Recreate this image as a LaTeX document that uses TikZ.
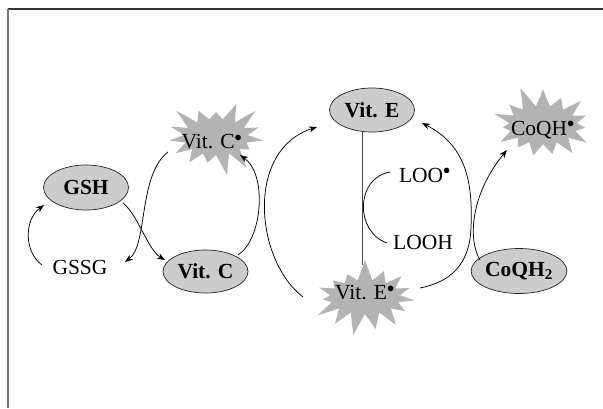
\documentclass[tikz,border=0pt]{standalone}
\usepackage{fontspec}
\setmainfont{Liberation Serif}
\usetikzlibrary{shapes.geometric,shapes.symbols,arrows.meta,calc}
\definecolor{ellfill}{HTML}{CCCCCC}
\definecolor{starfill}{HTML}{B3B3B3}
\begin{document}
\begin{tikzpicture}[x=1pt,y=-1pt,
  molec/.style={ellipse,draw=black!85,line width=0.7pt,fill=ellfill,inner sep=0pt,
     minimum width=85pt,minimum height=44pt,font=\fontsize{21.5}{24}\selectfont\bfseries},
  radical/.style={starburst,fill=starfill,draw=none,starburst points=15,
     starburst point height=22pt,inner sep=0pt},
  lbl/.style={inner sep=0pt,font=\fontsize{21.5}{24}\selectfont},
  conn/.style={line width=0.75pt,-{Stealth[length=8pt,width=6pt,inset=2.5pt]}},
  plain/.style={line width=0.75pt}]
\useasboundingbox (0,0) rectangle (603,408);
\draw[line width=1.2pt,black!80] (8,9) -- (603,9);
\draw[line width=1.5pt,black!55] (8,9) -- (8,408);
% radicals (stars)
\node[radical,random starburst=3,minimum width=108pt,minimum height=80pt] (vitcdot) at (216,137) {};
\node[radical,random starburst=7,minimum width=114pt,minimum height=78pt] (vitedot) at (365,297) {};
\node[radical,random starburst=11,minimum width=112pt,minimum height=82pt] (coqhdot) at (543,125) {};
\node[lbl] (vitcdotlbl) at (212,142) {Vit. C$^{\bullet}$};
\node[lbl] (vitedotlbl) at (365,293) {Vit. E$^{\bullet}$};
\node[lbl] (coqhdotlbl) at (543,130) {CoQH$^{\bullet}$};
% molecules
\node[molec,minimum height=45pt] (gsh) at (86,187.5) {GSH};
\node[molec,minimum height=43pt] (vitc) at (205.5,271.5) {Vit. C};
\node[molec] (vite) at (372,110) {Vit. E};
\node[molec,minimum height=45pt] (coqh) at (519,271) {CoQH\textsubscript{2}};
% plain labels
\node[lbl] (gssg) at (80,267) {GSSG};
\node[lbl] (loo) at (425,175) {LOO$^{\bullet}$};
\node[lbl] (looh) at (423,242) {LOOH};
% connectors
\draw[conn] ($(gssg)+(-38,-2)$) .. controls (24,252) and (24,220) .. ($(gsh)+(-42,17.5)$);
\draw[conn] ($(gsh)+(37,15.5)$) .. controls (138,215) and (148,250) .. ($(vitc)+(-40.5,-11.5)$);
\draw[conn] ($(vitcdot)+(-48,15)$) .. controls (138,175) and (148,245) .. ($(gssg)+(45,-5)$);
\draw[conn] ($(vitc)+(32.5,-16.5)$) .. controls (262,240) and (268,175) .. ($(vitcdot)+(24,18)$);
\draw[conn] ($(vitedot)+(-62,0)$) .. controls (255,260) and (245,150) .. ($(vite)+(-55,17)$);
\draw[plain,black!70] ($(vite)+(-10,22)$) -- ($(vitedot)+(-3,-32)$);
\draw[plain] ($(loo)+(-35,-3)$) .. controls (355,178) and (355,232) .. ($(looh)+(-36,1)$);
\draw[conn] ($(vitedot)+(55,-9)$) .. controls (450,282) and (470,265) .. (471,227)
   .. controls (473,180) and (465,145) .. ($(vite)+(50,13)$);
\draw[conn] ($(coqh)+(-39,-11)$) .. controls (468,240) and (470,195) .. ($(coqhdot)+(-36,25)$);
\end{tikzpicture}
\end{document}
